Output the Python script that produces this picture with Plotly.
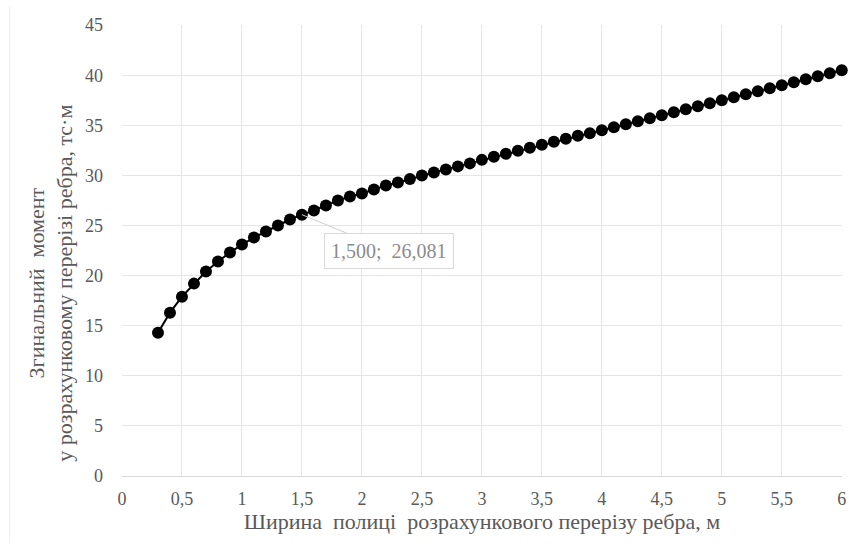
import plotly.graph_objects as go

widths = [0.3, 0.4, 0.5, 0.6, 0.7, 0.8, 0.9, 1.0, 1.1, 1.2, 1.3, 1.4, 1.5, 1.6, 1.7, 1.8, 1.9,
          2.0, 2.1, 2.2, 2.3, 2.4, 2.5, 2.6, 2.7, 2.8, 2.9, 3.0, 3.1, 3.2, 3.3, 3.4, 3.5, 3.6,
          3.7, 3.8, 3.9, 4.0, 4.1, 4.2, 4.3, 4.4, 4.5, 4.6, 4.7, 4.8, 4.9, 5.0, 5.1, 5.2, 5.3,
          5.4, 5.5, 5.6, 5.7, 5.8, 5.9, 6.0]
moments = [14.3, 16.3, 17.9, 19.2, 20.4, 21.4, 22.3, 23.1, 23.8, 24.4, 25.0, 25.6, 26.081,
           26.5, 27.0, 27.5, 27.9, 28.2, 28.6, 29.0, 29.3, 29.65, 30.0, 30.3, 30.6, 30.9,
           31.2, 31.55, 31.85, 32.15, 32.45, 32.75, 33.05, 33.35, 33.65, 33.95, 34.2, 34.5,
           34.8, 35.1, 35.4, 35.7, 36.0, 36.3, 36.6, 36.9, 37.2, 37.5, 37.8, 38.1, 38.4,
           38.7, 39.0, 39.3, 39.6, 39.9, 40.2, 40.5]

x_ticks = [0, 0.5, 1, 1.5, 2, 2.5, 3, 3.5, 4, 4.5, 5, 5.5, 6]
x_tick_labels = ["0", "0,5", "1", "1,5", "2", "2,5", "3", "3,5", "4", "4,5", "5", "5,5", "6"]
y_ticks = [0, 5, 10, 15, 20, 25, 30, 35, 40, 45]

label_x = 1.5
label_y = 26.081
label_text = "1,500;  26,081"

FONT = "Liberation Serif"
GRAY = "#595959"
GRID = "#e8e6e4"

fig = go.Figure()
fig.add_trace(go.Scatter(
    x=widths, y=moments, mode="lines+markers",
    line=dict(color="black", width=2),
    marker=dict(color="black", size=12),
    cliponaxis=False, showlegend=False, hoverinfo="skip",
))

fig.add_annotation(
    x=label_x, y=label_y, xref="x", yref="y",
    text=label_text, showarrow=True, arrowhead=0, arrowwidth=1,
    arrowcolor="#d0d0d0", ax=87, ay=36,
    bordercolor="#d9d9d9", borderwidth=1, borderpad=6, bgcolor="white",
    font=dict(family=FONT, size=20, color="#8c8c8c"),
)

fig.add_annotation(
    x=-0.099, y=0.428, xref="paper", yref="paper", textangle=-90,
    xanchor="center", yanchor="middle",
    text="Згинальний  момент<br>у розрахунковому перерізі ребра, тс·м",
    showarrow=False, font=dict(family=FONT, size=22, color=GRAY),
)

fig.add_shape(type="line", xref="paper", yref="paper",
              x0=-0.156, x1=-0.156, y0=-0.15, y1=1.04,
              line=dict(color="#eeeeee", width=1))

fig.update_layout(
    width=849, height=544,
    margin=dict(l=122, r=7, t=25, b=68, autoexpand=False),
    paper_bgcolor="white", plot_bgcolor="white",
    font=dict(family=FONT, size=18, color=GRAY),
)
fig.update_xaxes(
    range=[0, 6.002], tickvals=x_ticks, ticktext=x_tick_labels,
    showgrid=True, gridcolor=GRID, gridwidth=1,
    showline=True, linecolor="#d9d9d9", mirror=False,
    zeroline=False, ticks="", ticklabelstandoff=6, automargin=False,
    title=dict(text="Ширина  полиці  розрахункового перерізу ребра, м",
               font=dict(family=FONT, size=22, color=GRAY), standoff=4),
)
fig.update_yaxes(
    range=[0, 45.01], tickvals=y_ticks,
    showgrid=True, gridcolor=GRID, gridwidth=1,
    zeroline=False, showline=False, ticks="", ticklabelstandoff=18, automargin=False,
)

fig.write_html("out.html", config={"displayModeBar": False})
with open("out.html", encoding="utf-8") as f:
    html = f.read()
html = html.replace("<body>", '<body style="margin:0;padding:0">', 1)
with open("out.html", "w", encoding="utf-8") as f:
    f.write(html)
